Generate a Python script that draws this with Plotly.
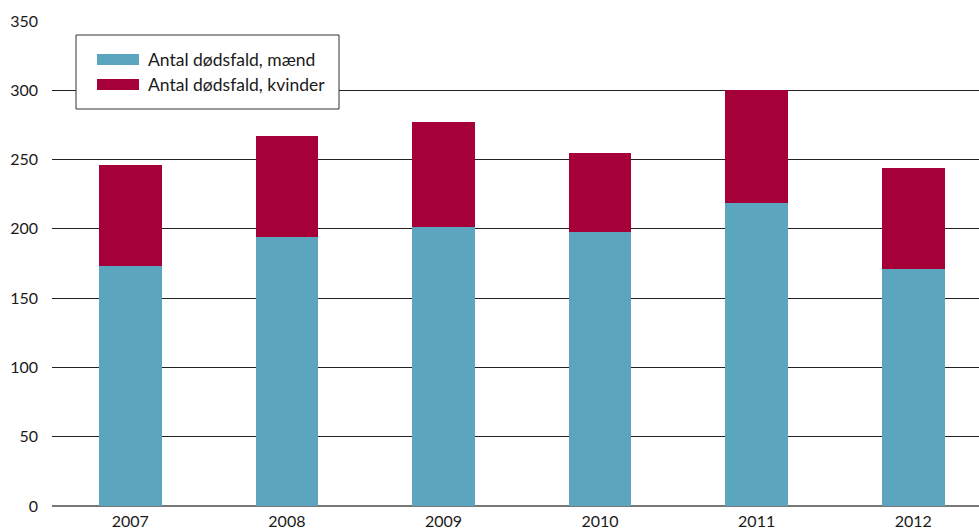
import plotly.graph_objects as go

years = ["2007", "2008", "2009", "2010", "2011", "2012"]
deaths_men = [173, 194, 201, 198, 219, 171]
deaths_women = [73, 73, 76, 57, 81, 73]
series_names = ["Antal dødsfald, mænd", "Antal dødsfald, kvinder"]
y_ticks = [0, 50, 100, 150, 200, 250, 300, 350]

TEAL = "#5BA6BE"
CRIMSON = "#A6003A"
FONT = "Lato, 'Noto Sans', sans-serif"

fig = go.Figure()
fig.add_trace(go.Bar(x=years, y=deaths_men, name=series_names[0],
                     marker=dict(color=TEAL, line=dict(width=0)), width=0.4))
fig.add_trace(go.Bar(x=years, y=deaths_women, name=series_names[1],
                     marker=dict(color=CRIMSON, line=dict(width=0)), width=0.4))

# Plot area geometry in pixels, used for the boxed legend
W, H = 979, 529
ML, MR, MT, MB = 52, 0, 21, 23
pw, ph = W - ML - MR, H - MT - MB


def px(x):
    return (x - ML) / pw


def py(y):
    return (H - MB - y) / ph


shapes = [
    dict(type="rect", xref="paper", yref="paper",
         x0=px(76), x1=px(339), y0=py(109), y1=py(35),
         fillcolor="white", line=dict(color="#333333", width=1), layer="above"),
]
annotations = []
swatch_rows = [(54, 65), (79, 90)]
for (top, bot), name, col in zip(swatch_rows, series_names, [TEAL, CRIMSON]):
    shapes.append(dict(type="rect", xref="paper", yref="paper",
                       x0=px(97), x1=px(139), y0=py(bot), y1=py(top),
                       fillcolor=col, line=dict(width=0), layer="above"))
    annotations.append(dict(xref="paper", yref="paper", x=px(146), y=py((top + bot) / 2),
                            text=name, showarrow=False, xanchor="left", yanchor="middle",
                            font=dict(family=FONT, size=17.5, color="#1a1a1a")))

fig.update_layout(
    barmode="stack",
    width=W, height=H,
    margin=dict(l=ML, r=MR, t=MT, b=MB, pad=0),
    paper_bgcolor="white", plot_bgcolor="white",
    showlegend=False,
    shapes=shapes,
    annotations=annotations,
    font=dict(family=FONT, size=16, color="#1a1a1a"),
    xaxis=dict(showgrid=False, showline=False, ticks="", tickfont=dict(size=16),
               range=[-0.5, 5.42], ticklabelstandoff=4),
    yaxis=dict(range=[0, 350], tickvals=y_ticks, showgrid=True,
               gridcolor="#222222", gridwidth=1, zeroline=True,
               zerolinecolor="#777777", zerolinewidth=2, showline=False,
               ticks="", tickfont=dict(size=16), ticklabelstandoff=13),
)

fig.write_html("out.html")
